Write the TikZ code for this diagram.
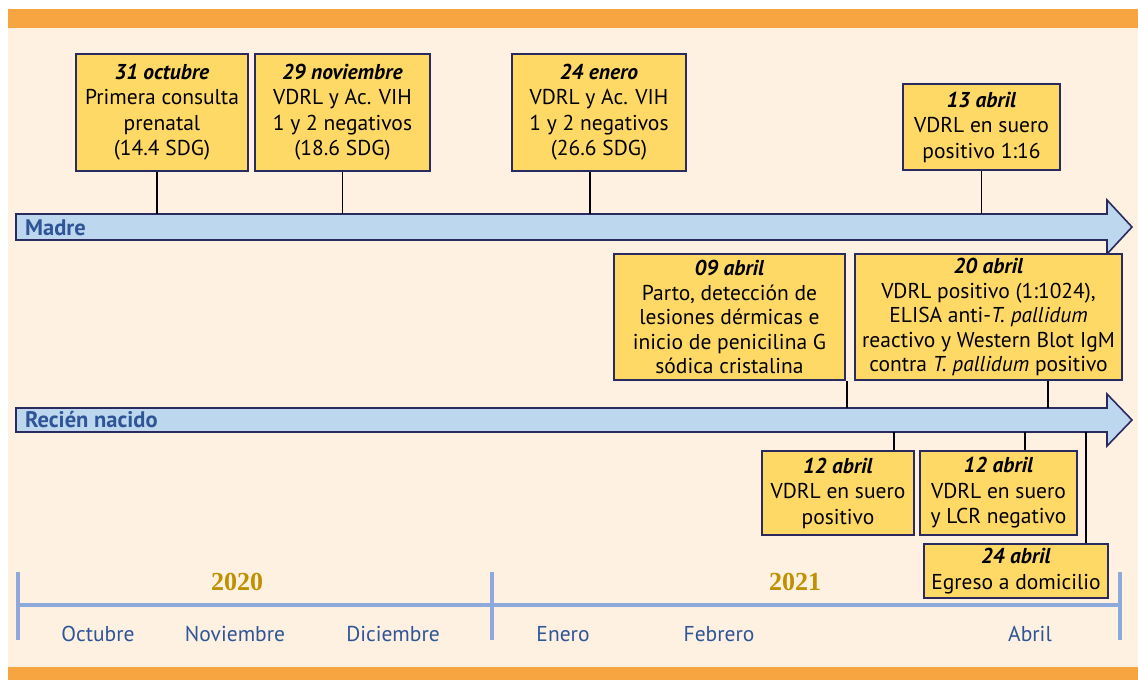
\documentclass[tikz,border=0pt]{standalone}
\usepackage{fontspec}
\setmainfont{PT Sans}
\newfontfamily\yearfont{Liberation Serif}
\usetikzlibrary{positioning}
\definecolor{cream}{HTML}{FEF1E1}
\definecolor{bandor}{HTML}{F7A541}
\definecolor{boxyel}{HTML}{FFD966}
\definecolor{navy}{HTML}{2B2A5E}
\definecolor{arrfill}{HTML}{BDD7EE}
\definecolor{lblue}{HTML}{2F5597}
\definecolor{axisblue}{HTML}{8EA9DB}
\definecolor{gold}{HTML}{BF9000}
\tikzset{
  evt/.style={draw=navy, line width=2pt, fill=boxyel, align=center, inner sep=0pt, font=\fontsize{21.5}{25.5}\selectfont},
  tlarrow/.style={draw=navy, line width=1.6pt, fill=arrfill, line join=miter},
  stem/.style={line width=1.8pt, black},
  lane/.style={font=\fontsize{22.5}{24}\selectfont\bfseries, text=lblue, anchor=west, inner sep=0pt},
  month/.style={font=\fontsize{21.5}{24}\selectfont, text=lblue, inner sep=0pt},
  yr/.style={font=\fontsize{26}{28}\selectfont\yearfont\bfseries, text=gold, inner sep=0pt},
  axis/.style={axisblue, line width=4pt}
}
\newcommand{\fecha}[1]{\textbf{\textit{#1}}}
\begin{document}
\begin{tikzpicture}[x=1pt, y=-1pt]
\useasboundingbox[fill=white] (0,0) rectangle (1138,680);
\fill[cream] (8,9) rectangle (1138,680);
\fill[bandor] (8,9) rectangle (1138,28);
\fill[bandor] (8,667) rectangle (1138,680);

\draw[tlarrow] (16,214) -- (1107,214) -- (1107,200) -- (1132,227) -- (1107,254) -- (1107,240) -- (16,240) -- cycle;
\draw[tlarrow] (16,408) -- (1107,408) -- (1107,394) -- (1132,420) -- (1107,446) -- (1107,432) -- (16,432) -- cycle;
\coordinate (madreN) at (16,214);
\coordinate (rnN) at (16,408);
\coordinate (rnS) at (16,432);
\node[lane] (madre) at (25,228) {Madre};
\node[lane] (rn) at (25,420) {Recién nacido};

\node[evt, minimum width=172, minimum height=117] (oct31) at (162,112) {\fecha{31 octubre}\\Primera consulta\\prenatal\\(14.4 SDG)};
\node[evt, minimum width=175, minimum height=117] (nov29) at (342.5,112) {\fecha{29 noviembre}\\VDRL y Ac. VIH\\1 y 2 negativos\\(18.6 SDG)};
\node[evt, minimum width=174, minimum height=117] (ene24) at (599,112) {\fecha{24 enero}\\VDRL y Ac. VIH\\1 y 2 negativos\\(26.6 SDG)};
\node[evt, minimum width=157, minimum height=86] (abr13) at (981.5,127) {\fecha{13 abril}\\VDRL en suero\\positivo 1:16};

\node[evt, minimum width=231, minimum height=126, font=\fontsize{21.5}{24.5}\selectfont] (abr09) at (729.5,317) {\fecha{09 abril}\\Parto, detección de\\lesiones dérmicas e\\inicio de penicilina G\\sódica cristalina};
\node[evt, minimum width=267, minimum height=126, font=\fontsize{21.5}{24.5}\selectfont] (abr20) at (988.5,317) {\fecha{20 abril}\\VDRL positivo (1:1024),\\ELISA anti-\textit{T. pallidum}\\reactivo y Western Blot IgM\\contra \textit{T. pallidum} positivo};
\node[evt, minimum width=152, minimum height=84] (abr12a) at (838,493) {\fecha{12 abril}\\VDRL en suero\\positivo};
\node[evt, minimum width=157, minimum height=84] (abr12b) at (998.5,493) {\fecha{12 abril}\\VDRL en suero\\y LCR negativo};
\node[evt, minimum width=184, minimum height=54] (abr24) at (1016,571) {\fecha{24 abril}\\Egreso a domicilio};

\draw[stem] ([xshift=-5pt]oct31.south) -- ([xshift=-5pt]oct31.south |- madreN);
\draw[stem] (nov29.south) -- (nov29.south |- madreN);
\draw[stem] ([xshift=-9pt]ene24.south) -- ([xshift=-9pt]ene24.south |- madreN);
\draw[stem] (abr13.south) -- (abr13.south |- madreN);
\draw[stem] ([xshift=1pt]abr09.south east) -- ([xshift=1pt]abr09.south east |- rnN);
\draw[stem] ([xshift=59.5pt]abr20.south) -- ([xshift=59.5pt]abr20.south |- rnN);
\draw[stem] ([xshift=56pt]abr12a.north) -- ([xshift=56pt]abr12a.north |- rnS);
\draw[stem] ([xshift=26.5pt]abr12b.north) -- ([xshift=26.5pt]abr12b.north |- rnS);
\draw[stem] ([xshift=70pt]abr24.north) -- ([xshift=70pt]abr24.north |- rnS);

\coordinate (t0) at (18,605);
\coordinate (t1) at (492,605);
\coordinate (t2) at (1120,605);
\draw[axis] (t0) -- (t2);
\foreach \t in {t0,t1,t2}
  \draw[axis] ([yshift=33pt]\t) -- ([yshift=-35pt]\t);
\node[yr] (y2020) at (237,582) {2020};
\node[yr] (y2021) at (795,582) {2021};
\node[month] (m10) at (98,634) {Octubre};
\node[month] (m11) at (235,634) {Noviembre};
\node[month] (m12) at (393,634) {Diciembre};
\node[month] (m1) at (563,634) {Enero};
\node[month] (m2) at (719,634) {Febrero};
\node[month] (m4) at (1030,634) {Abril};
\end{tikzpicture}
\end{document}
